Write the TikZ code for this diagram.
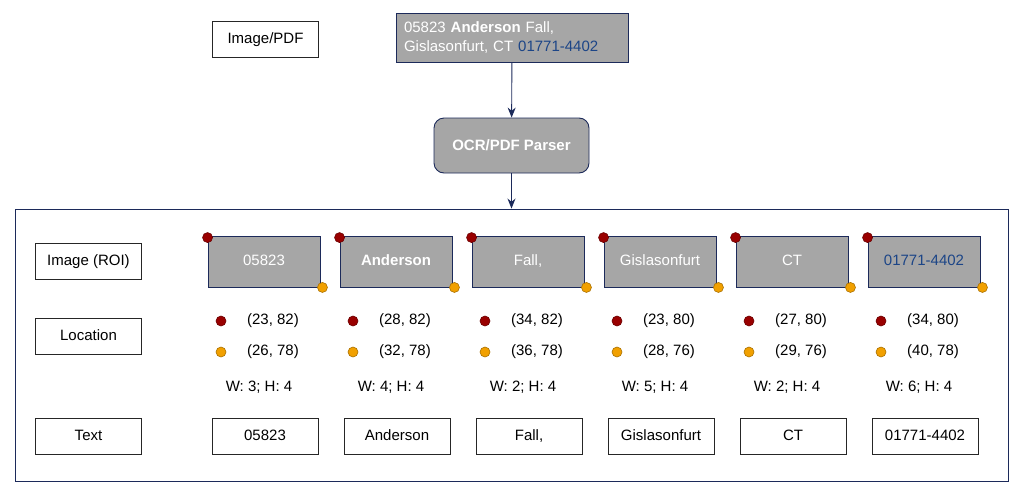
\documentclass[tikz,border=0pt]{standalone}
\usepackage{fontspec}
\setmainfont{Liberation Sans}
\usetikzlibrary{arrows.meta}
\definecolor{boxgray}{HTML}{A6A6A6}
\definecolor{navy}{HTML}{1C2A5A}
\definecolor{numblue}{HTML}{1C4587}
\definecolor{dotred}{HTML}{990000}
\definecolor{dotorange}{HTML}{F1A000}
\tikzset{
  plain box/.style={draw=black!85, fill=white, line width=0.8pt, minimum width=106pt, minimum height=36pt, text height=11pt, text depth=3pt},
  gray box/.style={draw=navy, fill=boxgray, text=white, line width=0.9pt},
  roi box/.style={gray box, minimum width=112pt, minimum height=51pt, text height=11pt, text depth=3pt},
  corner dot/.style={circle, inner sep=0pt, minimum size=10pt, line width=0.6pt},
}
\begin{document}
\begin{tikzpicture}[x=1pt, y=-1pt, >={Stealth[length=10pt, width=8pt]}, font=\fontsize{15}{18}\selectfont]
    \useasboundingbox (0,0) rectangle (1024,493);
    % input and parser
    \node[plain box] (input) at (265.5, 39) {Image/PDF};
    \node[gray box, minimum width=232pt, minimum height=49pt, text width=216pt, align=left, font=\fontsize{15}{19}\selectfont] (addr) at (512, 37.5)
        {05823 \textbf{Anderson} Fall,\\Gislasonfurt, CT \textcolor{numblue}{01771-4402}};
    \node[gray box, rounded corners=10pt, minimum width=155pt, minimum height=55pt, font=\fontsize{15}{18}\selectfont\bfseries] (parser) at (511.5, 145.5) {OCR/PDF Parser};
    \node[draw=navy, line width=0.9pt, minimum width=993pt, minimum height=272pt] (frame) at (511.5, 345) {};
    \draw[->, navy, line width=0.9pt] (addr) -- (parser);
    \draw[->, navy, line width=0.9pt] (parser) -- (frame);
    % row headers
    \node[plain box] (hroi) at (88.5, 261) {Image (ROI)};
    \node[plain box] (hloc) at (88.5, 336) {Location};
    \node[plain box] (htext) at (88.5, 436) {Text};
    % one column per word
    \foreach \i/\word/\style/\tc/\ax/\ay/\bx/\by/\w in {
        1/05823/\mdseries/white/23/82/26/78/3,
        2/Anderson/\bfseries/white/28/82/32/78/4,
        3/{Fall,}/\mdseries/white/34/82/36/78/2,
        4/Gislasonfurt/\mdseries/white/23/80/28/76/5,
        5/CT/\mdseries/white/27/80/29/76/2,
        6/01771-4402/\mdseries/numblue/34/80/40/78/6}{
      \pgfmathsetmacro{\cx}{264 + (\i-1)*132}
      \node[roi box, text=\tc, font=\fontsize{15}{18}\selectfont\style] (roi\i) at (\cx, 261.5) {\word};
      \node[corner dot, fill=dotred, draw=dotred!70!black] (tl\i) at ([shift={(0pt,-2pt)}]roi\i.north west) {};
      \node[corner dot, fill=dotorange, draw=dotorange!70!black] (br\i) at ([shift={(2pt,0pt)}]roi\i.south east) {};
      \node[corner dot, fill=dotred, draw=dotred!70!black] (ldot\i) at (\cx-43, 321) {};
      \node[corner dot, fill=dotorange, draw=dotorange!70!black] (rdot\i) at (\cx-43, 352) {};
      \node (lpos\i) at (\cx+9, 321) {(\ax, \ay)};
      \node (rpos\i) at (\cx+9, 352) {(\bx, \by)};
      \node (size\i) at (\cx-5, 387) {W: \w; H: 4};
      \node[plain box] (word\i) at (\cx+1, 436) {\word};
    }
\end{tikzpicture}
\end{document}
